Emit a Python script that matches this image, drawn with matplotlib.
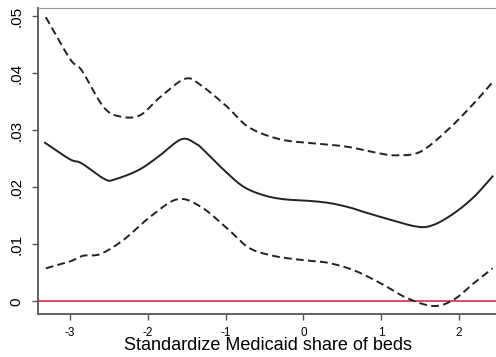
import numpy as np
import matplotlib.pyplot as plt

plt.rcParams['font.family'] = ['Liberation Sans', 'DejaVu Sans']

# Point estimate and 95% band over the standardized Medicaid share
x_est = [-3.32, -3.0, -2.85, -2.55, -2.42, -2.12, -1.87, -1.57, -1.39, -1.28, -1.02,
         -0.77, -0.51, -0.25, 0.09, 0.35, 0.61, 0.77, 1.07, 1.46, 1.67, 1.93, 2.19, 2.43]
y_est = [.0278, .0249, .0242, .0214, .0214, .0230, .0253, .0284, .0277, .0265, .0230,
         .0201, .0186, .0179, .0176, .0172, .0164, .0157, .0145, .0131, .0134, .0154, .0183, .0219]

x_hi = [-3.31, -3.0, -2.85, -2.57, -2.36, -2.10, -1.84, -1.52, -1.32, -0.98, -0.70,
        -0.30, 0.13, 0.56, 0.99, 1.20, 1.50, 1.85, 2.19, 2.43]
y_hi = [.0498, .0425, .0405, .0341, .0324, .0326, .0358, .0390, .0379, .0341, .0305,
        .0284, .0277, .0271, .0259, .0256, .0262, .0300, .0347, .0384]

x_lo = [-3.31, -3.0, -2.83, -2.61, -2.31, -1.97, -1.62, -1.32, -0.98, -0.70, -0.39,
        -0.05, 0.30, 0.64, 0.99, 1.33, 1.67, 1.93, 2.19, 2.43]
y_lo = [.0058, .0070, .0080, .0083, .0108, .0148, .0179, .0166, .0128, .0094, .0080,
        .0073, .0068, .0055, .0032, .0006, -.0008, .0003, .0032, .0058]

yticks = [0, .01, .02, .03, .04, .05]
ytick_labels = ['0', '.01', '.02', '.03', '.04', '.05']
xticks = [-3, -2, -1, 0, 1, 2]


def smooth(xs, ys):
    # Catmull-Rom curve through the points
    xs = np.asarray(xs, float)
    ys = np.asarray(ys, float)
    px = np.concatenate([[2 * xs[0] - xs[1]], xs, [2 * xs[-1] - xs[-2]]])
    py = np.concatenate([[2 * ys[0] - ys[1]], ys, [2 * ys[-1] - ys[-2]]])
    ox, oy = [], []
    t = np.linspace(0, 1, 20, endpoint=False)
    for i in range(1, len(px) - 2):
        for arr, out in ((px, ox), (py, oy)):
            p0, p1, p2, p3 = arr[i - 1], arr[i], arr[i + 1], arr[i + 2]
            out.extend(0.5 * (2 * p1 + (-p0 + p2) * t + (2 * p0 - 5 * p1 + 4 * p2 - p3) * t ** 2
                              + (-p0 + 3 * p1 - 3 * p2 + p3) * t ** 3))
    ox.append(xs[-1])
    oy.append(ys[-1])
    return ox, oy


fig = plt.figure(figsize=(4.96, 3.57), dpi=100)
ax = fig.add_axes([38 / 496, 43 / 357, 460 / 496, 306 / 357])

ax.axhline(0, color='#d8294f', lw=1.2, zorder=1)
ax.plot(*smooth(x_est, y_est), color='#222222', lw=1.4)
ax.plot(*smooth(x_hi, y_hi), color='#222222', lw=1.4, dashes=(4, 2.2))
ax.plot(*smooth(x_lo, y_lo), color='#222222', lw=1.4, dashes=(4, 2.2))

ax.set_xlim(-3.41, 2.50)
ax.set_ylim(-0.0022, 0.0514)
ax.set_xticks(xticks)
ax.set_xticklabels([str(v) for v in xticks])
ax.set_yticks(yticks)
ax.set_yticklabels(ytick_labels, rotation=90, va='center')

for s in ('left', 'bottom'):
    ax.spines[s].set_color('#555555')
    ax.spines[s].set_linewidth(1.3)
ax.spines['top'].set_color('#999999')
ax.spines['right'].set_visible(False)
ax.tick_params(colors='#555555', labelcolor='black', length=4, width=1)
ax.tick_params(axis='x', labelsize=8.5, pad=5)
ax.tick_params(axis='y', labelsize=11, pad=6.5)

ax.set_xlabel('Standardize Medicaid share of beds', fontsize=13, va='baseline')
ax.xaxis.set_label_coords(0.5, -36 / 306)

fig.savefig('out.png', dpi=100)
